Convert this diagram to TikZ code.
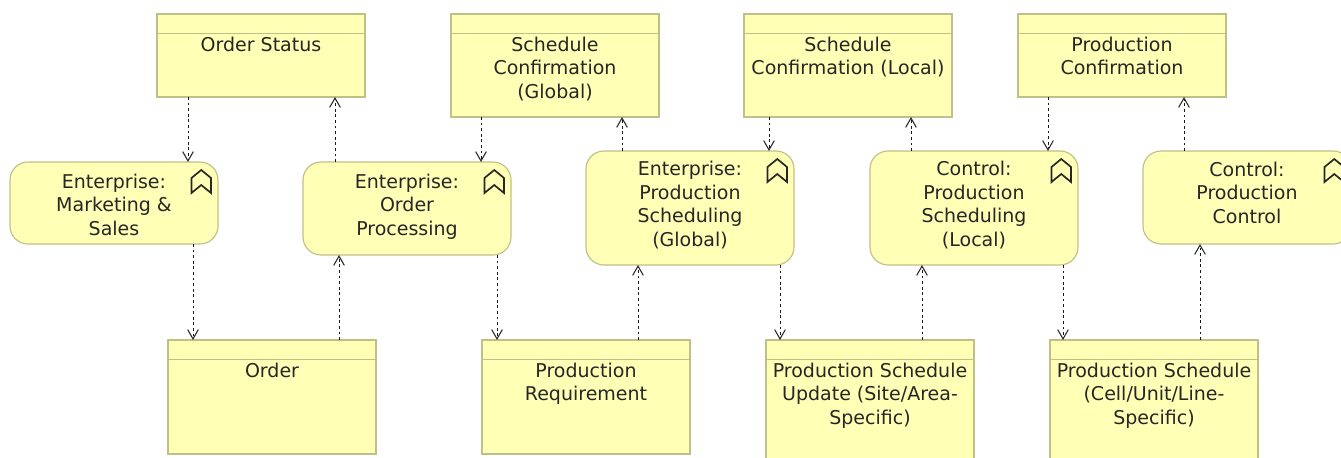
\documentclass[tikz,border=0pt]{standalone}
\usepackage{fontspec}
\setmainfont{DejaVu Sans}
\usetikzlibrary{arrows.meta,calc}
\definecolor{boxfill}{HTML}{FFFFB5}
\definecolor{boxline}{HTML}{BFBF88}
\definecolor{tipcol}{HTML}{2A2A2A}
\newdimen\px \px=0.75pt
% #1 height px, #2 top gap px, #3 text
\newcommand\boxtext[3]{\parbox[c][#1\px][t]{208\px}{\centering\fontsize{14.25pt}{17.6pt}\selectfont\vspace*{#2\px}#3\par}}
\tikzset{
  x=0.75pt,y=-0.75pt,
  element/.style={draw=boxline,fill=boxfill,line width=0.85pt,inner sep=0pt,outer sep=0pt,anchor=north west,text=black!85},
  dataobj/.style={element,rectangle},
  func/.style={element,rectangle,rounded corners=13.5pt},
  headerline/.style={draw=boxline,line width=0.7pt},
  chev/.style={draw=black!85,line width=1.25pt,line join=miter},
  dep/.style={draw=black!90,line width=0.72pt,dash pattern=on 2.1pt off 2.1pt,
    -{Straight Barb[length=7pt,width=8pt,line width=0.8pt,color=tipcol]}}
}
\newcommand\dobj[5]{% name, x, y, height, text
  \node[dataobj] (#1) at (#2,#3) {\boxtext{#4}{23}{#5}};
  \draw[headerline] ($(#1.north west)+(0,19)$) -- ($(#1.north east)+(0,19)$);
}
\newcommand\fnode[6]{% name, x, y, height, top gap, text
  \node[func] (#1) at (#2,#3) {\boxtext{#4}{#5}{#6}};
  \draw[chev] ($(#1.north east)+(-26.5,31)$) -- ++(0,-15) -- ++(9.75,-8) -- ++(9.75,8) -- ++(0,15) -- ++(-9.75,-8) -- cycle;
}
% from anchor, x offset, to anchor, x offset (offsets from the west corners)
\newcommand\depn[4]{\draw[dep] ($(#1 west)+(#2,0)$) -- ($(#3 west)+(#4,0)$);}
\begin{document}
\begin{tikzpicture}
\useasboundingbox (0,0) rectangle (1341,457);
\clip (0,0) rectangle (1341,457);
\fill[white] (0,0) rectangle (1341,457);
% top objects
\dobj{os}{157}{14}{83}{Order Status}
\dobj{scg}{451}{14}{103}{Schedule\\Confirmation\\(Global)}
\dobj{scl}{744}{14}{103}{Schedule\\Confirmation (Local)}
\dobj{pc}{1018}{14}{83}{Production\\Confirmation}
% functions
\fnode{ems}{10}{162}{82}{12}{Enterprise:\\Marketing \&\\Sales}
\fnode{op}{303}{162}{93}{12}{Enterprise:\\Order\\Processing}
\fnode{psg}{586}{151}{114}{10.5}{Enterprise:\\Production\\Scheduling\\(Global)}
\fnode{psl}{870}{151}{114}{10.5}{Control:\\Production\\Scheduling\\(Local)}
\fnode{ctl}{1143}{151}{93}{11}{Control:\\Production\\Control}
% bottom objects
\dobj{ord}{168}{340}{114}{Order}
\dobj{pr}{482}{340}{114}{Production\\Requirement}
\dobj{upd}{766}{340}{134}{Production Schedule\\Update (Site/Area-\\Specific)}
\dobj{cul}{1050}{340}{134}{Production Schedule\\(Cell/Unit/Line-\\Specific)}
% connectors
\depn{os.south}{31}{ems.north}{178}
\depn{op.north}{32}{os.south}{178}
\depn{ems.south}{183}{ord.north}{25}
\depn{ord.north}{171}{op.south}{36}
\depn{scg.south}{30}{op.north}{178}
\depn{psg.north}{36}{scg.south}{171}
\depn{op.south}{194}{pr.north}{15}
\depn{pr.north}{156}{psg.south}{52}
\depn{scl.south}{25}{psg.north}{183}
\depn{psl.north}{41}{scl.south}{167}
\depn{psg.south}{194}{upd.north}{14}
\depn{upd.north}{156}{psl.south}{52}
\depn{pc.south}{30}{psl.north}{178}
\depn{ctl.north}{41}{pc.south}{166}
\depn{psl.south}{193}{cul.north}{13}
\depn{cul.north}{150}{ctl.south}{57}
\end{tikzpicture}
\end{document}
